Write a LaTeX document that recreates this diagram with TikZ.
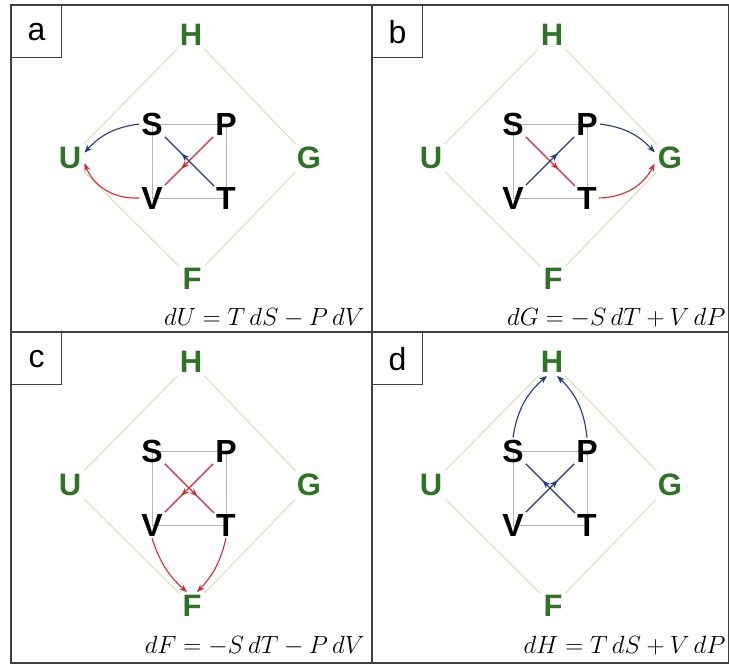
\documentclass[tikz,border=0pt]{standalone}
\usepackage{fontspec}
\setsansfont{Liberation Sans}
\usetikzlibrary{arrows.meta,decorations.markings,backgrounds}
\definecolor{tdgreen}{HTML}{2E7326}
\definecolor{tdpale}{HTML}{D5E0B4}
\definecolor{tdgray}{HTML}{B4B4B4}
\definecolor{tdframe}{HTML}{404040}
\definecolor{tdblue}{HTML}{24397E}
\definecolor{tdred}{HTML}{CF2A38}

\begin{document}
\begin{tikzpicture}[x=1pt,y=1pt,
 pot/.style={font=\sffamily\bfseries\fontsize{31}{31}\selectfont,text=tdgreen,inner sep=3pt},
 var/.style={font=\sffamily\bfseries\fontsize{32}{32}\selectfont,text=black,inner sep=2pt},
 tag/.style={draw=tdframe,line width=1.2pt,minimum width=50pt,minimum height=52pt,
   anchor=north west,font=\sffamily\fontsize{32}{32}\selectfont},
 eqn/.style={anchor=base east,font=\fontsize{26}{26}\selectfont},
 diam/.style={draw=tdpale,line width=1pt},
 sq/.style={draw=tdgray,line width=0.5pt},
 frame/.style={draw=tdframe,line width=1.5pt},
 blu/.style={draw=tdblue,line width=1.1pt},
 rd/.style={draw=tdred,line width=1.1pt},
 tip/.style={-{Stealth[length=8pt,width=6pt]}},
 mid/.style={postaction={decorate},decoration={markings,
   mark=at position 0.66 with {\arrow{Stealth[length=8pt,width=6pt]}}}}]
\useasboundingbox (0,0) rectangle (729,665);

% the four panels
\foreach \p/\ox/\oy/\eq in {a/11/660/{dU = T\,dS - P\,dV},
                            b/372/660/{dG = -S\,dT + V\,dP},
                            c/11/333/{dF = -S\,dT - P\,dV},
                            d/372/333/{dH = T\,dS + V\,dP}}{
  \node[tag] (\p-tag) at (\ox,\oy) {\p};
  \node[pot] (\p-H) at (\ox+180,\oy-30) {H};
  \node[pot] (\p-U) at (\ox+59,\oy-153) {U};
  \node[pot] (\p-G) at (\ox+298,\oy-153) {G};
  \node[pot] (\p-F) at (\ox+181,\oy-274) {F};
  \node[var] (\p-S) at (\ox+141,\oy-119) {S};
  \node[var] (\p-P) at (\ox+215,\oy-119) {P};
  \node[var] (\p-V) at (\ox+141,\oy-193) {V};
  \node[var] (\p-T) at (\ox+215,\oy-193) {T};
  \draw[diam] (\p-H) -- (\p-G) -- (\p-F) -- (\p-U) -- (\p-H);
  \begin{scope}[on background layer]
    \draw[sq] (\p-S.center) -- (\p-P.center) -- (\p-T.center) -- (\p-V.center) -- cycle;
  \end{scope}
  \node[eqn] (\p-eq) at (\ox+357,\oy-321) {$\eq$};
}

% frame
\draw[frame] (11,2) rectangle (729,660);
\draw[frame] (372,2) -- (372,660);
\draw[frame] (11,333) -- (729,333);

% a: dU
\draw[blu,mid] (a-T) -- (a-S);
\draw[blu,tip] (a-S.west) to[bend right=20] (a-U.20);
\draw[rd,mid] (a-P) -- (a-V);
\draw[rd,tip] (a-V.west) to[bend left=35] (a-U.-20);

% b: dG
\draw[rd,mid] (b-S) -- (b-T);
\draw[rd,tip] (b-T.east) to[bend right=30] (b-G.200);
\draw[blu,mid] (b-V) -- (b-P);
\draw[blu,tip] (b-P.east) to[bend left=20] (b-G.160);

% c: dF
\draw[rd,mid] (c-S) -- (c-T);
\draw[rd,mid] (c-P) -- (c-V);
\draw[rd,tip] (c-V.south) to[bend right=15] (c-F.110);
\draw[rd,tip] (c-T.south) to[bend left=15] (c-F.70);

% d: dH
\draw[blu,mid] (d-V) -- (d-P);
\draw[blu,mid] (d-T) -- (d-S);
\draw[blu,tip] (d-S.north) to[bend left=20] (d-H.250);
\draw[blu,tip] (d-P.north) to[bend right=20] (d-H.290);
\end{tikzpicture}
\end{document}
